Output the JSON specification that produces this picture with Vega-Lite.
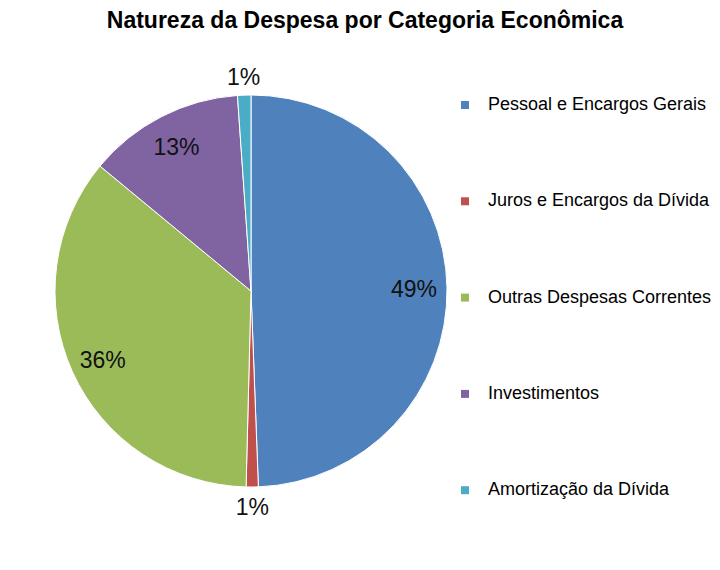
{
  "$schema": "https://vega.github.io/schema/vega-lite/v6.json",
  "width": 392,
  "height": 392,
  "autosize": {"type": "none"},
  "padding": {"left": 55, "top": 95, "right": 273, "bottom": 83},
  "background": "white",
  "title": {
    "text": "Natureza da Despesa por Categoria Econômica",
    "font": "Liberation Sans",
    "fontSize": 23,
    "fontWeight": "bold",
    "color": "black",
    "anchor": "middle",
    "frame": "group",
    "dx": 114,
    "offset": 34
  },
  "config": {"view": {"stroke": null}},
  "data": {
    "values": [
      {"categoria": "Pessoal e Encargos Gerais", "valor": 0.494, "ordem": 1},
      {"categoria": "Juros e Encargos da Dívida", "valor": 0.010, "ordem": 2},
      {"categoria": "Outras Despesas Correntes", "valor": 0.356, "ordem": 3},
      {"categoria": "Investimentos", "valor": 0.129, "ordem": 4},
      {"categoria": "Amortização da Dívida", "valor": 0.011, "ordem": 5}
    ]
  },
  "encoding": {
    "theta": {"field": "valor", "type": "quantitative", "stack": true},
    "order": {"field": "ordem", "type": "quantitative"}
  },
  "layer": [
    {
      "mark": {"type": "arc", "outerRadius": 196, "stroke": "white", "strokeWidth": 1},
      "encoding": {
        "color": {
          "field": "categoria",
          "type": "nominal",
          "sort": null,
          "scale": {
            "domain": ["Pessoal e Encargos Gerais", "Juros e Encargos da Dívida", "Outras Despesas Correntes", "Investimentos", "Amortização da Dívida"],
            "range": ["#4F81BD", "#C0504D", "#9BBB59", "#8064A2", "#4BACC6"]
          },
          "legend": {
            "title": null,
            "orient": "none",
            "legendX": 401,
            "legendY": 1,
            "padding": 0,
            "symbolType": "square",
            "symbolSize": 64,
            "symbolStrokeWidth": 0,
            "labelFont": "Liberation Sans",
            "labelFontSize": 18,
            "labelColor": "black",
            "labelOffset": 14,
            "rowPadding": 78.3,
            "labelLimit": 400
          }
        }
      }
    },
    {
      "mark": {"type": "text", "radius": 163, "font": "Liberation Sans", "fontSize": 23, "color": "#111111", "baseline": "middle", "align": "center", "dy": 2},
      "encoding": {
        "text": {
          "condition": {"test": "datum.valor >= 0.05", "field": "valor", "type": "quantitative", "format": ".0%"},
          "value": ""
        }
      }
    },
    {
      "mark": {"type": "text", "radius": 215, "font": "Liberation Sans", "fontSize": 23, "color": "#111111", "baseline": "middle", "align": "center", "dy": 2},
      "encoding": {
        "text": {
          "condition": {"test": "datum.valor < 0.05", "field": "valor", "type": "quantitative", "format": ".0%"},
          "value": ""
        }
      }
    }
  ]
}
